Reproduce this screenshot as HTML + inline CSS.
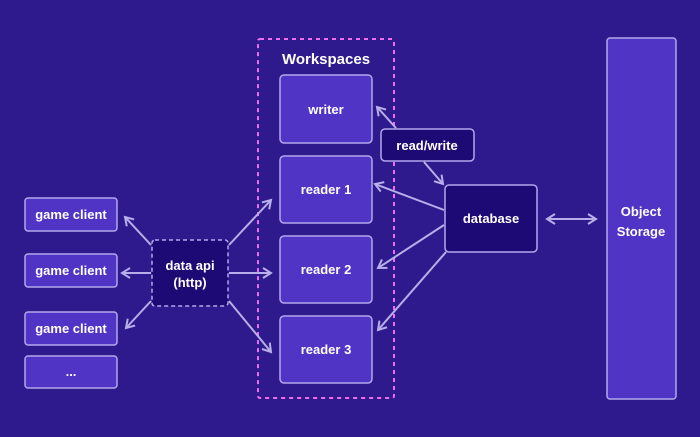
<!DOCTYPE html>
<html><head><style>
html,body{margin:0;padding:0;background:#2e1a8c;}
svg{display:block}
text{font-family:"Liberation Sans",sans-serif;font-weight:bold;fill:#fff;font-size:13px;text-anchor:middle}
</style></head><body>
<svg width="700" height="437" viewBox="0 0 700 437">
<rect width="700" height="437" fill="#2e1a8c"/>
<defs><marker id="a" markerWidth="12" markerHeight="12" refX="10" refY="6" orient="auto-start-reverse" markerUnits="userSpaceOnUse"><path d="M2,1 L10,6 L2,11" fill="none" stroke="#b8aeea" stroke-width="2"/></marker></defs>
<g stroke="#b8aeea" stroke-width="2" fill="none">
<rect x="258" y="39" width="136" height="359" stroke="#f06cf0" stroke-dasharray="4,4" rx="2"/>
</g>
<g fill="#4f34c6" stroke="#b3a8ec" stroke-width="1.5">
<rect x="25" y="198" width="92" height="33" rx="3"/>
<rect x="25" y="254" width="92" height="33" rx="3"/>
<rect x="25" y="312" width="92" height="33" rx="3"/>
<rect x="25" y="356" width="92" height="32" rx="3"/>
<rect x="280" y="75" width="92" height="68" rx="4"/>
<rect x="280" y="156" width="92" height="67" rx="4"/>
<rect x="280" y="236" width="92" height="67" rx="4"/>
<rect x="280" y="316" width="92" height="67" rx="4"/>
<rect x="607" y="38" width="69" height="361" rx="3"/>
</g>
<g fill="#1e0a74" stroke="#b3a8ec" stroke-width="1.5">
<rect x="152" y="240" width="76" height="66" rx="3" stroke-dasharray="4,3"/>
<rect x="381" y="129" width="93" height="32" rx="4"/>
<rect x="445" y="185" width="92" height="67" rx="4"/>
</g>
<g stroke="#b8aeea" stroke-width="2" fill="none" marker-end="url(#a)">
<line x1="151" y1="245" x2="125" y2="217"/>
<line x1="151" y1="273" x2="122" y2="273"/>
<line x1="151" y1="301" x2="126" y2="328"/>
<line x1="229" y1="245" x2="271" y2="200"/>
<line x1="229" y1="273" x2="271" y2="273"/>
<line x1="229" y1="301" x2="271" y2="352"/>
<line x1="396" y1="128" x2="377" y2="107"/>
<line x1="424" y1="162" x2="443" y2="184"/>
<line x1="444" y1="210" x2="375" y2="184"/>
<line x1="444" y1="225" x2="378" y2="268"/>
<line x1="446" y1="252" x2="378" y2="330"/>
<line x1="547" y1="219" x2="596" y2="219" marker-start="url(#a)"/>
</g>
<text x="71" y="219">game client</text>
<text x="71" y="275">game client</text>
<text x="71" y="333">game client</text>
<text x="71" y="376">...</text>
<text x="190" y="270">data api</text>
<text x="190" y="287">(http)</text>
<text x="326" y="64" style="font-size:15px">Workspaces</text>
<text x="326" y="114">writer</text>
<text x="326" y="194">reader 1</text>
<text x="326" y="274">reader 2</text>
<text x="326" y="354">reader 3</text>
<text x="427" y="150">read/write</text>
<text x="491" y="223">database</text>
<text x="641" y="216">Object</text>
<text x="641" y="236">Storage</text>
</svg>
</body></html>
